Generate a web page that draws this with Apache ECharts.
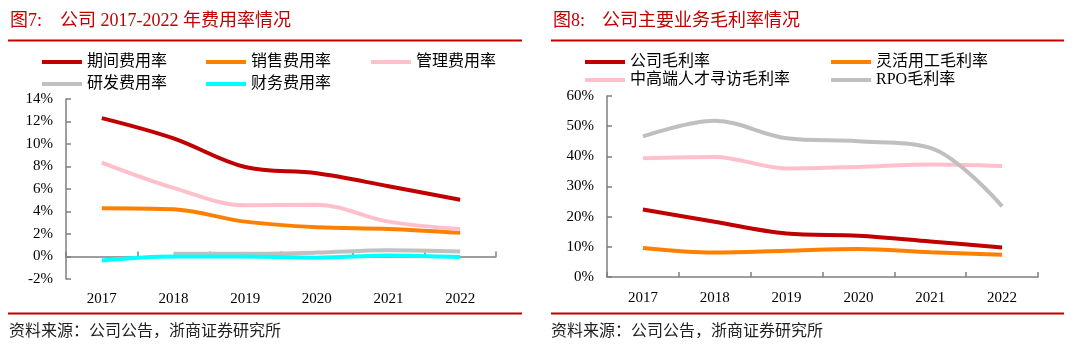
<!DOCTYPE html>
<html>
<head>
<meta charset="utf-8">
<script src="https://cdn.jsdelivr.net/npm/echarts@6/dist/echarts.min.js"></script>
<style>
  html, body { margin: 0; padding: 0; background: #fff; }
  #chart { width: 1080px; height: 353px; }
</style>
</head>
<body>
<div id="chart"></div>
<script>
// categories
const years = ['2017', '2018', '2019', '2020', '2021', '2022'];

// 图7 费用率 (%)
const qijian   = [12.3, 10.5, 7.95, 7.4, 6.25, 5.05];
const xiaoshou = [4.3, 4.2, 3.1, 2.6, 2.45, 2.1];
const guanli   = [8.35, 6.1, 4.55, 4.6, 3.1, 2.45];
const yanfa    = [null, 0.25, 0.25, 0.35, 0.55, 0.45];
const caiwu    = [-0.35, 0, 0, -0.1, 0.1, -0.05];

// 图8 毛利率 (%)
const gongsi   = [22.4, 18.3, 14.4, 13.7, 11.8, 9.8];
const linghuo  = [9.6, 8.1, 8.7, 9.3, 8.2, 7.4];
const zhonggao = [39.4, 39.8, 36.0, 36.5, 37.3, 36.8];
const rpo      = [46.6, 51.8, 46.0, 45.0, 42.8, 23.4];

// y axis ticks: min, max, step
const leftTicks  = [-2, 14, 2];
const rightTicks = [0, 60, 10];

const serif = "'Liberation Serif','Times New Roman',serif";
const mixed = "'Liberation Serif','Noto Sans CJK SC',serif";
const axisGrey = '#7f7f7f';
const red = '#c00000';

// name, data, color, grid, legend left, legend row centre
const lines = [
  ['期间费用率', qijian,   '#c00000', 0, 42,  63],
  ['销售费用率', xiaoshou, '#ff8000', 0, 206, 63],
  ['管理费用率', guanli,   '#ffc0cb', 0, 371, 63],
  ['研发费用率', yanfa,    '#c0c0c0', 0, 42,  85],
  ['财务费用率', caiwu,    '#00ffff', 0, 206, 85],
  ['公司毛利率', gongsi,   '#c00000', 1, 585, 63],
  ['灵活用工毛利率', linghuo, '#ff8000', 1, 831, 63],
  ['中高端人才寻访毛利率', zhonggao, '#ffc0cb', 1, 585, 81],
  ['RPO毛利率', rpo,       '#bfbfbf', 1, 831, 81]
];

const axisLine = { show: true, lineStyle: { color: axisGrey, width: 1.5 } };
const axisTick = { show: true, inside: true, length: 5, lineStyle: { color: axisGrey, width: 1.5 } };
const tickFont = { fontFamily: serif, fontSize: 15, color: '#000' };

const chart = echarts.init(document.getElementById('chart'));

chart.setOption({
  animation: false,
  backgroundColor: '#fff',
  grid: [
    { left: 66, top: 99, width: 430, height: 180 },
    { left: 607, top: 96, width: 431, height: 181 }
  ],
  xAxis: [
    { // axis line at 0%
      gridIndex: 0, type: 'category', data: years,
      axisLine: Object.assign({ onZero: true }, axisLine),
      axisTick: axisTick,
      axisLabel: { show: false }
    },
    { // labels at bottom
      gridIndex: 0, type: 'category', data: years, position: 'bottom',
      axisLine: { show: false, onZero: false },
      axisTick: { show: false },
      axisLabel: Object.assign({ margin: 13 }, tickFont)
    },
    {
      gridIndex: 1, type: 'category', data: years,
      axisLine: axisLine,
      axisTick: axisTick,
      axisLabel: Object.assign({ margin: 14 }, tickFont)
    }
  ],
  yAxis: [
    {
      gridIndex: 0, type: 'value',
      min: leftTicks[0], max: leftTicks[1], interval: leftTicks[2],
      axisLine: axisLine, axisTick: axisTick,
      splitLine: { show: false },
      axisLabel: Object.assign({ formatter: '{value}%', margin: 13 }, tickFont)
    },
    {
      gridIndex: 1, type: 'value',
      min: rightTicks[0], max: rightTicks[1], interval: rightTicks[2],
      axisLine: axisLine, axisTick: axisTick,
      splitLine: { show: false },
      axisLabel: Object.assign({ formatter: '{value}%', margin: 13 }, tickFont)
    }
  ],
  legend: lines.map(l => ({
    data: [l[0]],
    left: l[4],
    top: l[5] - 9,
    padding: 0,
    icon: 'rect',
    itemWidth: 40,
    itemHeight: 4,
    selectedMode: false,
    textStyle: { fontFamily: mixed, fontSize: 16, color: '#000' }
  })),
  series: lines.map(l => ({
    name: l[0],
    type: 'line',
    data: l[1],
    xAxisIndex: l[3] === 0 ? 0 : 2,
    yAxisIndex: l[3],
    smooth: 0.35,
    showSymbol: false,
    color: l[2],
    lineStyle: { width: 4, color: l[2] }
  })),
  graphic: [
    { type: 'text', left: 10, top: 12, style: { text: '图7:', fill: red, font: "18px " + mixed } },
    { type: 'text', left: 60, top: 12, style: { text: '公司 2017-2022 年费用率情况', fill: red, font: "18px " + mixed } },
    { type: 'text', left: 553, top: 12, style: { text: '图8:', fill: red, font: "18px " + mixed } },
    { type: 'text', left: 602, top: 12, style: { text: '公司主要业务毛利率情况', fill: red, font: "18px " + mixed } },
    { type: 'line', shape: { x1: 8, y1: 40.5, x2: 522, y2: 40.5 }, style: { stroke: red, lineWidth: 2 } },
    { type: 'line', shape: { x1: 551, y1: 40.5, x2: 1064, y2: 40.5 }, style: { stroke: red, lineWidth: 2 } },
    { type: 'line', shape: { x1: 8, y1: 313.5, x2: 522, y2: 313.5 }, style: { stroke: red, lineWidth: 2 } },
    { type: 'line', shape: { x1: 551, y1: 313.5, x2: 1064, y2: 313.5 }, style: { stroke: red, lineWidth: 2 } },
    { type: 'text', left: 9, top: 324, style: { text: '资料来源：公司公告，浙商证券研究所', fill: '#222', font: "16px " + mixed } },
    { type: 'text', left: 551, top: 324, style: { text: '资料来源：公司公告，浙商证券研究所', fill: '#222', font: "16px " + mixed } }
  ]
});
</script>
</body>
</html>
